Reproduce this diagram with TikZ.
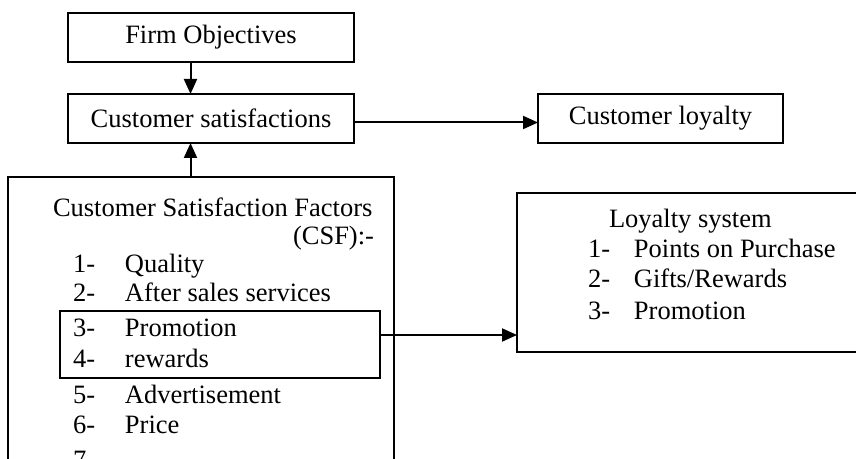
\documentclass[tikz,border=0pt]{standalone}
\usepackage{fontspec}
\setmainfont{Liberation Serif}
\usetikzlibrary{arrows.meta}

\newcommand\numtxt[3]{\makebox[#1][l]{#2}#3}

\begin{document}
\begin{tikzpicture}[x=0.5pt,y=-0.5pt,>={Triangle[length=7.5pt,width=6.5pt]},line width=1pt,
  every node/.style={font=\fontsize{13.25}{15}\selectfont},
  box/.style={draw,rectangle,inner sep=0pt,outer sep=0pt,minimum height=24.5pt},
  item/.style={anchor=base west,inner sep=0pt}]
  \useasboundingbox (0,0) rectangle (856,459);
  \clip (0,0) rectangle (856,459);

  \node[box,minimum width=143pt] (firm) at (211,37.5) {Firm Objectives};
  \node[box,minimum width=143pt] (sat) at (211,118.5) {Customer satisfactions};
  \node[box,minimum width=122.5pt] (loyal) at (660.5,118.5) {Customer loyalty};
  \node[box,minimum width=193pt,minimum height=156.5pt] (csf) at (201,333.5) {};
  \node[box,minimum width=160pt,minimum height=33.5pt] (sub) at (220,344.5) {};
  \node[box,minimum width=191.5pt,minimum height=79.5pt] (lsys) at (708.5,272.5) {};
  \coordinate (ax) at (190.5,0);

  % factors list
  \node[item] (csft) at (52,217) {Customer Satisfaction Factors};
  \node[item,anchor=base east] (csfa) at (375,245) {(CSF):-};
  \node[item] (c1) at (72,273) {\numtxt{26pt}{1-}{Quality}};
  \node[item] (c2) at (72,302) {\numtxt{26pt}{2-}{After sales services}};
  \node[item] (c3) at (72,337) {\numtxt{26pt}{3-}{Promotion}};
  \node[item] (c4) at (72,368) {\numtxt{26pt}{4-}{rewards}};
  \node[item] (c5) at (72,403) {\numtxt{26pt}{5-}{Advertisement}};
  \node[item] (c6) at (72,433) {\numtxt{26pt}{6-}{Price}};
  \node[item] (c7) at (72,468) {\numtxt{26pt}{7-}{}};

  % loyalty list
  \node[item] (lt) at (608,228) {Loyalty system};
  \node[item] (l1) at (587,258) {\numtxt{23pt}{1-}{Points on Purchase}};
  \node[item] (l2) at (587,288) {\numtxt{23pt}{2-}{Gifts/Rewards}};
  \node[item] (l3) at (587,320) {\numtxt{23pt}{3-}{Promotion}};

  \path[->]
    (firm.south -| ax) edge (sat.north -| ax)
    (csf.north -| ax) edge (sat.south -| ax)
    ([yshift=-2pt]sat.east) edge ([yshift=-2pt]loyal.west)
    ([yshift=4.75pt]sub.east) edge ([yshift=4.75pt]sub.east -| lsys.west);
\end{tikzpicture}
\end{document}
